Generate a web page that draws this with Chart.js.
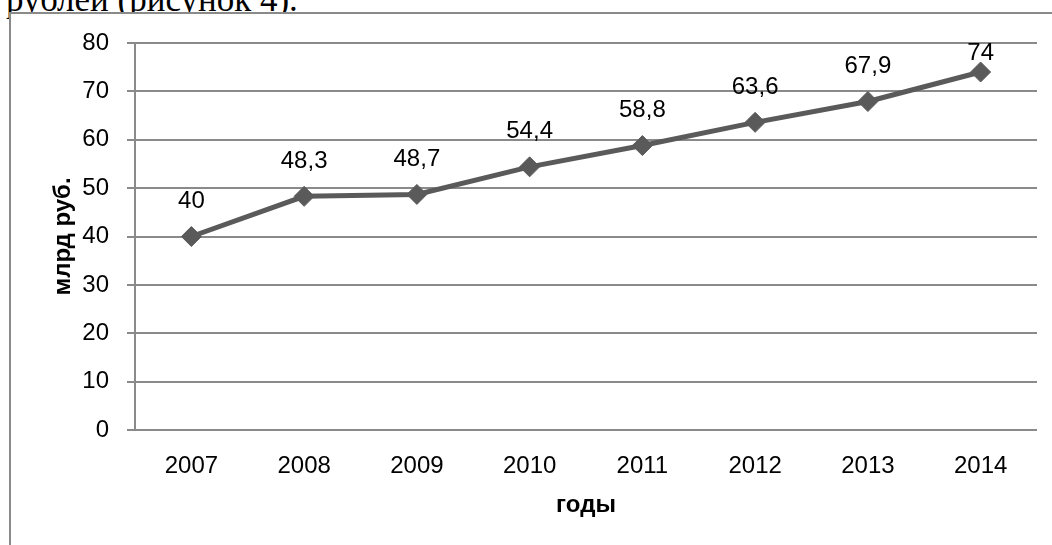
<!DOCTYPE html>
<html>
<head>
<meta charset="utf-8">
<script src="https://cdn.jsdelivr.net/npm/chart.js@4.4.1/dist/chart.umd.min.js"></script>
<style>
  html, body { margin: 0; padding: 0; background: #fff; overflow: hidden; }
  #wrap { position: relative; width: 1052px; height: 545px; }
  #caption { position: absolute; left: 6px; top: -18px; font-family: 'Liberation Serif', serif; font-size: 35px; line-height: 35px; color: #000; white-space: nowrap; }
  #frame { position: absolute; left: 9px; top: 12px; width: 1050px; height: 540px; background: #fff; border-top: 2px solid #8a8a8a; border-left: 2px solid #8a8a8a; }
  canvas { position: absolute; left: 0; top: 0; }
</style>
</head>
<body>
<div id="wrap">
  <div id="caption">рублей (рисунок 4).</div>
  <div id="frame"></div>
  <canvas id="chart" width="1052" height="545"></canvas>
</div>
<script>
// ============================================================
// DATA
// ============================================================
const years = ['2007', '2008', '2009', '2010', '2011', '2012', '2013', '2014'];
const values = [40, 48.3, 48.7, 54.4, 58.8, 63.6, 67.9, 74];
const yTicks = [0, 10, 20, 30, 40, 50, 60, 70, 80];

const tickFont = { family: "'Liberation Sans', Arial, sans-serif", size: 24 };
const titleFont = { family: "'Liberation Sans', Arial, sans-serif", size: 24, weight: 'bold' };
const lineColor = '#5a5a5a';
const gridColor = '#8a8a8a';

// value labels above each point, comma decimal
const pointLabels = {
  id: 'pointLabels',
  afterDatasetsDraw(chart) {
    const { ctx } = chart;
    const meta = chart.getDatasetMeta(0);
    ctx.save();
    ctx.font = `${tickFont.size}px ${tickFont.family}`;
    ctx.fillStyle = '#000';
    ctx.textAlign = 'center';
    ctx.textBaseline = 'middle';
    meta.data.forEach((pt, i) => {
      const y = Math.max(pt.y - 35, 53);
      ctx.fillText(String(values[i]).replace('.', ','), pt.x, y);
    });
    ctx.restore();
  }
};

new Chart(document.getElementById('chart'), {
  type: 'line',
  data: {
    labels: years,
    datasets: [{
      data: values,
      borderColor: lineColor,
      backgroundColor: lineColor,
      borderWidth: 5,
      pointStyle: 'rectRot',
      pointRadius: 10,
      pointBackgroundColor: lineColor,
      pointBorderColor: lineColor,
      pointBorderWidth: 1,
      tension: 0,
      fill: false
    }]
  },
  options: {
    responsive: false,
    animation: false,
    layout: { padding: { left: 0, top: 43, right: 15, bottom: 0 } },
    plugins: { legend: { display: false }, tooltip: { enabled: false } },
    scales: {
      x: {
        offset: true,
        grid: { display: false },
        border: { display: false },
        ticks: { color: '#000', font: tickFont, padding: 14, maxRotation: 0 },
        title: { display: true, text: 'годы', color: '#000', font: titleFont, padding: { top: 0, bottom: 25 } },
        afterFit: s => { s.height = 115; }
      },
      y: {
        min: 0, max: 80,
        afterBuildTicks: s => { s.ticks = yTicks.map(v => ({ value: v })); },
        grid: { color: gridColor, lineWidth: 2, tickLength: 8 },
        border: { color: gridColor, width: 2 },
        ticks: { color: '#000', font: tickFont, padding: 18 },
        title: { display: true, text: 'млрд руб.', color: '#000', font: titleFont, padding: { top: 49, bottom: 0 } },
        afterFit: s => { s.width = 135; }
      }
    }
  },
  plugins: [pointLabels]
});
</script>
</body>
</html>
